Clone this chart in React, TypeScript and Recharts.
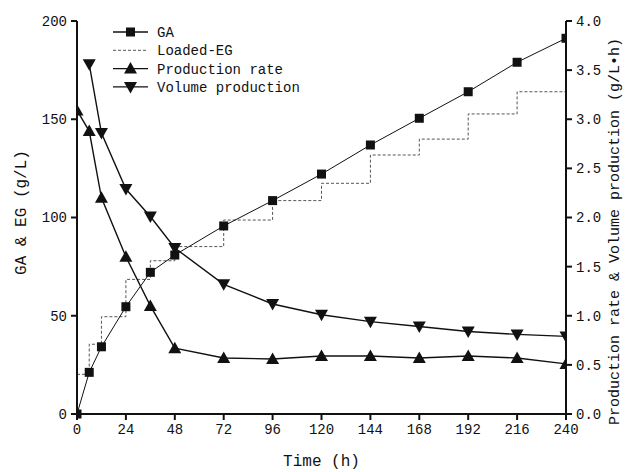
import React from 'react';
import { ComposedChart, Line, XAxis, YAxis, Legend } from 'recharts';

const times = [0, 6, 12, 24, 36, 48, 72, 96, 120, 144, 168, 192, 216, 240];
const gaValues = [0, 21.2, 34.2, 54.6, 72.1, 80.9, 95.7, 108.6, 122.1, 136.9, 150.5, 164.0, 179.0, 191.2];
const egValues = [20.2, 35.5, 49.5, 68.5, 78.0, 85.2, 98.7, 108.6, 117.4, 131.8, 139.9, 152.7, 164.0, 164.0];
const rateValues = [3.09, 2.88, 2.2, 1.6, 1.1, 0.67, 0.57, 0.56, 0.59, 0.59, 0.57, 0.59, 0.57, 0.51];
const volumeValues = [null, 3.56, 2.86, 2.29, 2.01, 1.69, 1.32, 1.12, 1.01, 0.94, 0.89, 0.84, 0.81, 0.79];

const xTicks = [0, 24, 48, 72, 96, 120, 144, 168, 192, 216, 240];
const leftTicks = [0, 50, 100, 150, 200];
const leftMinorTicks = [25, 75, 125, 175];
const rightTicks = [0, 0.5, 1.0, 1.5, 2.0, 2.5, 3.0, 3.5, 4.0];

const legendItems = [
  { name: 'GA', marker: 'square', dashed: false },
  { name: 'Loaded-EG', marker: 'none', dashed: true },
  { name: 'Production rate', marker: 'up', dashed: false },
  { name: 'Volume production', marker: 'down', dashed: false },
];

const data = times.map((t, i) => ({
  t,
  ga: gaValues[i],
  eg: egValues[i],
  rate: rateValues[i],
  volume: volumeValues[i],
}));

const FONT = '"Liberation Mono", monospace';
const INK = '#111';

const Square = (props: any) => {
  const { cx, cy } = props;
  if (cx == null || cy == null || props.value == null) return null;
  return <rect x={cx - 4.5} y={cy - 4.5} width={9} height={9} fill={INK} />;
};
const TriUp = (props: any) => {
  const { cx, cy } = props;
  if (cx == null || cy == null || props.value == null) return null;
  return <polygon points={`${cx},${cy - 6.5} ${cx - 6.5},${cy + 5} ${cx + 6.5},${cy + 5}`} fill={INK} />;
};
const TriDown = (props: any) => {
  const { cx, cy } = props;
  if (cx == null || cy == null || props.value == null) return null;
  return <polygon points={`${cx},${cy + 6.5} ${cx - 6.5},${cy - 5} ${cx + 6.5},${cy - 5}`} fill={INK} />;
};

const LegendContent = () => (
  <svg width={220} height={80} style={{ display: 'block' }}>
    {legendItems.map((it, i) => {
      const y = 10 + i * 18.3;
      return (
        <g key={it.name}>
          <line x1={3} x2={38} y1={y} y2={y} stroke={it.dashed ? '#555' : INK}
            strokeWidth={it.dashed ? 1 : 1.3} strokeDasharray={it.dashed ? '3 2' : undefined} />
          {it.marker === 'square' && <rect x={16} y={y - 4.5} width={9} height={9} fill={INK} />}
          {it.marker === 'up' && <polygon points={`${20.5},${y - 6.5} ${14},${y + 5} ${27},${y + 5}`} fill={INK} />}
          {it.marker === 'down' && <polygon points={`${20.5},${y + 6.5} ${14},${y - 5} ${27},${y - 5}`} fill={INK} />}
          <text x={47} y={y + 5} fontSize={14} fontFamily={FONT} fill={INK}>{it.name}</text>
        </g>
      );
    })}
  </svg>
);

const LeftLabel = (props: any) => {
  const vb = props.viewBox || {};
  const x = (vb.x ?? 0) + 22;
  const y = (vb.y ?? 0) + (vb.height ?? 0) / 2 - 5;
  return (
    <text x={x} y={y} transform={`rotate(-90 ${x} ${y})`} textAnchor="middle" dominantBaseline="central"
      fontSize={16} fontFamily={FONT} fill={INK}>GA &amp; EG (g/L)</text>
  );
};

const RightLabel = (props: any) => {
  const vb = props.viewBox || {};
  const x = (vb.x ?? 0) + 49;
  const y = (vb.y ?? 0) + (vb.height ?? 0) / 2 + 14;
  return (
    <text x={x} y={y} transform={`rotate(-90 ${x} ${y})`} textAnchor="middle" dominantBaseline="central"
      fontSize={15} fontFamily={FONT} fill={INK}>Production rate &amp; Volume production (g/L•h)</text>
  );
};

const BottomLabel = (props: any) => {
  const vb = props.viewBox || {};
  const x = (vb.x ?? 0) + (vb.width ?? 0) / 2;
  const y = (vb.y ?? 0) + 48;
  return (
    <text x={x} y={y} textAnchor="middle" dominantBaseline="central" fontSize={16} fontFamily={FONT} fill={INK}>Time (h)</text>
  );
};

const tickStyle = { fontSize: 14, fontFamily: FONT, fill: INK };
const axisLine = { stroke: INK, strokeWidth: 2 };
const tickLine = { stroke: INK, strokeWidth: 2 };

export default function App() {
  return (
    <div style={{ position: 'absolute', left: 0, top: 0, width: 628, height: 472, background: '#fff' }}>
      <ComposedChart width={628} height={472} data={data} margin={{ top: 21, right: 0, bottom: 0, left: 0 }}>
        <XAxis dataKey="t" type="number" domain={[0, 240]} ticks={xTicks} interval={0}
          height={58} axisLine={axisLine} tickLine={tickLine} tickSize={6} tickMargin={4}
          tick={tickStyle} label={<BottomLabel />} allowDataOverflow />
        <YAxis yAxisId="minor" orientation="left" domain={[0, 200]} ticks={leftMinorTicks} interval={0}
          width={0} axisLine={false} tickLine={{ stroke: INK, strokeWidth: 1.5 }} tickSize={4}
          tickFormatter={() => ''} />
        <YAxis yAxisId="left" orientation="left" domain={[0, 200]} ticks={leftTicks} interval={0}
          width={77} axisLine={axisLine} tickLine={tickLine} tickSize={6} tickMargin={4}
          tick={tickStyle} label={<LeftLabel />} />
        <YAxis yAxisId="right" orientation="right" domain={[0, 4]} ticks={rightTicks} interval={0}
          width={62} axisLine={axisLine} tickLine={tickLine} tickSize={6} tickMargin={4}
          tick={tickStyle} tickFormatter={(v: number) => v.toFixed(1)} label={<RightLabel />} />
        <Legend layout="vertical" align="center" verticalAlign="middle" content={<LegendContent />}
          wrapperStyle={{ position: 'absolute', left: 110, top: 22, width: 220, height: 80 }} />
        <Line yAxisId="left" dataKey="eg" type="stepAfter" stroke="#555" strokeWidth={1}
          strokeDasharray="3 2" dot={false} isAnimationActive={false} />
        <Line yAxisId="left" dataKey="ga" type="linear" stroke={INK} strokeWidth={1}
          dot={<Square />} isAnimationActive={false} />
        <Line yAxisId="right" dataKey="rate" type="linear" stroke={INK} strokeWidth={1.4}
          dot={<TriUp />} isAnimationActive={false} />
        <Line yAxisId="right" dataKey="volume" type="linear" stroke={INK} strokeWidth={1.4}
          dot={<TriDown />} isAnimationActive={false} connectNulls={false} />
      </ComposedChart>
    </div>
  );
}
